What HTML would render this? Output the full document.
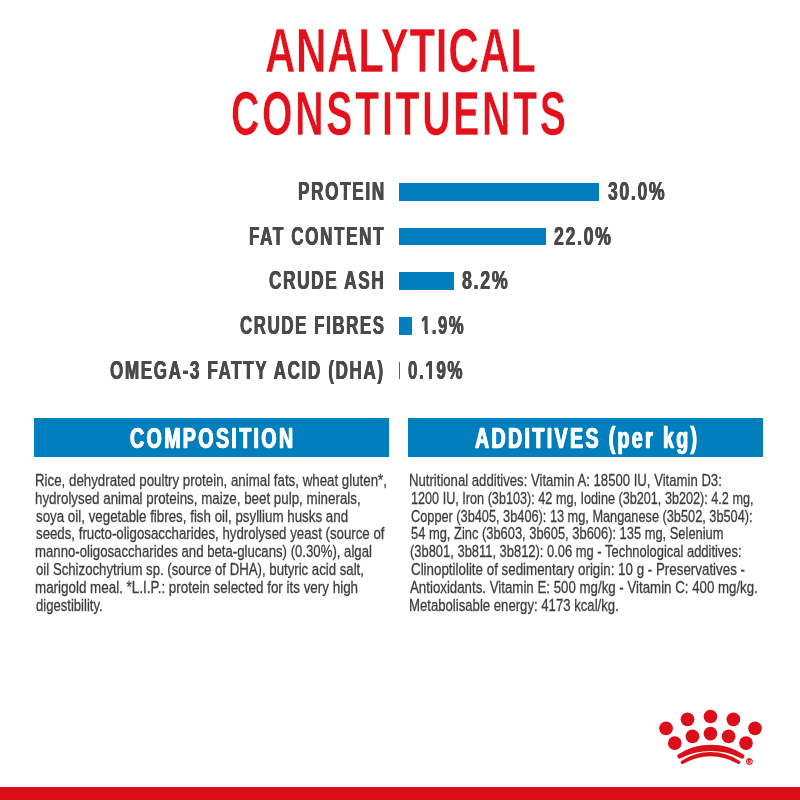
<!DOCTYPE html>
<html lang="en"><head><meta charset="utf-8"><title>Analytical constituents</title>
<style>
html,body{margin:0;padding:0;background:#fff}
body{width:800px;height:800px;position:relative;overflow:hidden;font-family:"Liberation Sans",sans-serif}
.t{position:absolute;white-space:nowrap;line-height:1;transform-origin:0 0;margin:0}
.p{position:absolute;background:#fff}
.bar{position:absolute;left:399px;height:17.8px;background:#007ebd}
.hd{position:absolute;top:418.3px;height:38.4px;background:#007ebd}
.foot{position:absolute;left:0;top:786.5px;width:800px;height:13.5px;background:#da0f19}
svg{position:absolute;left:0;top:0}
</style></head><body>
<div class="bar" style="top:182.85px;width:200.2px"></div>
<div class="bar" style="top:227.55px;width:146.7px"></div>
<div class="bar" style="top:272.2px;width:55.0px"></div>
<div class="bar" style="top:317.0px;width:12.9px"></div>
<div class="bar" style="top:361.5px;width:1.35px"></div>

<div class="hd" style="left:33.8px;width:355.5px"></div>
<div class="hd" style="left:408px;width:355.3px"></div>
<div class="t" style="left:265.26px;top:19.50px;font-size:62.35px;font-weight:700;color:#e2111c;transform:scaleX(0.6759);-webkit-text-stroke:0.5px #fff;letter-spacing:0.94px">ANALYTICAL</div>
<div class="t" style="left:230.64px;top:82.65px;font-size:62.35px;font-weight:700;color:#e2111c;transform:scaleX(0.6302);-webkit-text-stroke:0.5px #fff;letter-spacing:4.25px">CONSTITUENTS</div>
<div class="t" style="left:298.43px;top:179.10px;font-size:25.29px;font-weight:700;color:#4a4a49;transform:scaleX(0.6800);-webkit-text-stroke:0.2px #4a4a49;letter-spacing:2.40px;text-shadow:0.5px 0 0 #4a4a49,-0.5px 0 0 #4a4a49">PROTEIN</div>
<div class="t" style="left:248.93px;top:223.70px;font-size:25.29px;font-weight:700;color:#4a4a49;transform:scaleX(0.6755);-webkit-text-stroke:0.2px #4a4a49;letter-spacing:2.40px;text-shadow:0.5px 0 0 #4a4a49,-0.5px 0 0 #4a4a49">FAT CONTENT</div>
<div class="t" style="left:269.23px;top:268.40px;font-size:25.29px;font-weight:700;color:#4a4a49;transform:scaleX(0.6809);-webkit-text-stroke:0.2px #4a4a49;letter-spacing:2.40px;text-shadow:0.5px 0 0 #4a4a49,-0.5px 0 0 #4a4a49">CRUDE ASH</div>
<div class="t" style="left:240.33px;top:313.20px;font-size:25.29px;font-weight:700;color:#4a4a49;transform:scaleX(0.6667);-webkit-text-stroke:0.2px #4a4a49;letter-spacing:2.40px;text-shadow:0.5px 0 0 #4a4a49,-0.5px 0 0 #4a4a49">CRUDE FIBRES</div>
<div class="t" style="left:109.83px;top:357.80px;font-size:25.29px;font-weight:700;color:#4a4a49;transform:scaleX(0.6752);-webkit-text-stroke:0.2px #4a4a49;letter-spacing:2.40px;text-shadow:0.5px 0 0 #4a4a49,-0.5px 0 0 #4a4a49">OMEGA-3 FATTY ACID (DHA)</div>
<div class="t" style="left:607.92px;top:179.10px;font-size:25.29px;font-weight:700;color:#4a4a49;transform:scaleX(0.6962);-webkit-text-stroke:0.2px #4a4a49;letter-spacing:2.40px;text-shadow:0.5px 0 0 #4a4a49,-0.5px 0 0 #4a4a49">30.0%</div>
<div class="t" style="left:554.42px;top:223.70px;font-size:25.29px;font-weight:700;color:#4a4a49;transform:scaleX(0.6999);-webkit-text-stroke:0.2px #4a4a49;letter-spacing:2.40px;text-shadow:0.5px 0 0 #4a4a49,-0.5px 0 0 #4a4a49">22.0%</div>
<div class="t" style="left:461.72px;top:268.40px;font-size:25.29px;font-weight:700;color:#4a4a49;transform:scaleX(0.7048);-webkit-text-stroke:0.2px #4a4a49;letter-spacing:2.40px;text-shadow:0.5px 0 0 #4a4a49,-0.5px 0 0 #4a4a49">8.2%</div>
<div class="t" style="left:421.34px;top:313.20px;font-size:25.29px;font-weight:700;color:#4a4a49;transform:scaleX(0.6568);-webkit-text-stroke:0.2px #4a4a49;letter-spacing:2.40px;text-shadow:0.5px 0 0 #4a4a49,-0.5px 0 0 #4a4a49">1.9%</div>
<div class="p" style="left:420.79px;top:330.62px;width:3.93px;height:4.28px"></div><div class="p" style="left:427.99px;top:330.62px;width:3.22px;height:4.28px"></div>
<div class="t" style="left:407.73px;top:357.80px;font-size:25.29px;font-weight:700;color:#4a4a49;transform:scaleX(0.6702);-webkit-text-stroke:0.2px #4a4a49;letter-spacing:2.40px;text-shadow:0.5px 0 0 #4a4a49,-0.5px 0 0 #4a4a49">0.19%</div>
<div class="p" style="left:424.55px;top:375.22px;width:3.99px;height:4.28px"></div><div class="p" style="left:431.87px;top:375.22px;width:3.27px;height:4.28px"></div>
<div class="t" style="left:130.48px;top:424.17px;font-size:28.85px;font-weight:700;color:#ffffff;transform:scaleX(0.6803);-webkit-text-stroke:0.45px #ffffff;letter-spacing:3.46px;text-shadow:0.75px 0 0 #ffffff,-0.75px 0 0 #ffffff">COMPOSITION</div>
<div class="t" style="left:475.16px;top:424.17px;font-size:28.85px;font-weight:700;color:#ffffff;transform:scaleX(0.6802);-webkit-text-stroke:0.45px #ffffff;letter-spacing:3.46px;text-shadow:0.75px 0 0 #ffffff,-0.75px 0 0 #ffffff">ADDITIVES (per kg)</div>
<div class="t" style="left:34.85px;top:471.60px;font-size:17.37px;font-weight:400;color:#3c3c3b;transform:scaleX(0.7662);-webkit-text-stroke:0.3px #3c3c3b">Rice, dehydrated poultry protein, animal fats, wheat gluten*,</div>
<div class="t" style="left:34.85px;top:489.56px;font-size:17.37px;font-weight:400;color:#3c3c3b;transform:scaleX(0.7688);-webkit-text-stroke:0.3px #3c3c3b">hydrolysed animal proteins, maize, beet pulp, minerals,</div>
<div class="t" style="left:36.32px;top:507.52px;font-size:17.37px;font-weight:400;color:#3c3c3b;transform:scaleX(0.7682);-webkit-text-stroke:0.3px #3c3c3b">soya oil, vegetable fibres, fish oil, psyllium husks and</div>
<div class="t" style="left:36.31px;top:525.48px;font-size:17.37px;font-weight:400;color:#3c3c3b;transform:scaleX(0.7635);-webkit-text-stroke:0.3px #3c3c3b">seeds, fructo-oligosaccharides, hydrolysed yeast (source of</div>
<div class="t" style="left:34.85px;top:543.44px;font-size:17.37px;font-weight:400;color:#3c3c3b;transform:scaleX(0.7591);-webkit-text-stroke:0.3px #3c3c3b">manno-oligosaccharides and beta-glucans) (0.30%), algal</div>
<div class="t" style="left:36.31px;top:561.40px;font-size:17.37px;font-weight:400;color:#3c3c3b;transform:scaleX(0.7605);-webkit-text-stroke:0.3px #3c3c3b">oil Schizochytrium sp. (source of DHA), butyric acid salt,</div>
<div class="t" style="left:34.84px;top:579.36px;font-size:17.37px;font-weight:400;color:#3c3c3b;transform:scaleX(0.7720);-webkit-text-stroke:0.3px #3c3c3b">marigold meal. *L.I.P.: protein selected for its very high</div>
<div class="t" style="left:36.31px;top:597.32px;font-size:17.37px;font-weight:400;color:#3c3c3b;transform:scaleX(0.7541);-webkit-text-stroke:0.3px #3c3c3b">digestibility.</div>
<div class="t" style="left:409.46px;top:471.60px;font-size:17.37px;font-weight:400;color:#3c3c3b;transform:scaleX(0.7569);-webkit-text-stroke:0.3px #3c3c3b">Nutritional additives: Vitamin A: 18500 IU, Vitamin D3:</div>
<div class="t" style="left:410.98px;top:489.56px;font-size:17.37px;font-weight:400;color:#3c3c3b;transform:scaleX(0.7288);-webkit-text-stroke:0.3px #3c3c3b">1200 IU, Iron (3b103): 42 mg, Iodine (3b201, 3b202): 4.2 mg,</div>
<div class="t" style="left:410.71px;top:507.52px;font-size:17.37px;font-weight:400;color:#3c3c3b;transform:scaleX(0.7342);-webkit-text-stroke:0.3px #3c3c3b">Copper (3b405, 3b406): 13 mg, Manganese (3b502, 3b504):</div>
<div class="t" style="left:410.71px;top:525.48px;font-size:17.37px;font-weight:400;color:#3c3c3b;transform:scaleX(0.7428);-webkit-text-stroke:0.3px #3c3c3b">54 mg, Zinc (3b603, 3b605, 3b606): 135 mg, Selenium</div>
<div class="t" style="left:409.97px;top:543.44px;font-size:17.37px;font-weight:400;color:#3c3c3b;transform:scaleX(0.7447);-webkit-text-stroke:0.3px #3c3c3b">(3b801, 3b811, 3b812): 0.06 mg - Technological additives:</div>
<div class="t" style="left:410.72px;top:561.40px;font-size:17.37px;font-weight:400;color:#3c3c3b;transform:scaleX(0.7693);-webkit-text-stroke:0.3px #3c3c3b">Clinoptilolite of sedimentary origin: 10 g - Preservatives -</div>
<div class="t" style="left:410.21px;top:579.36px;font-size:17.37px;font-weight:400;color:#3c3c3b;transform:scaleX(0.7648);-webkit-text-stroke:0.3px #3c3c3b">Antioxidants. Vitamin E: 500 mg/kg - Vitamin C: 400 mg/kg.</div>
<div class="t" style="left:409.46px;top:597.32px;font-size:17.37px;font-weight:400;color:#3c3c3b;transform:scaleX(0.7575);-webkit-text-stroke:0.3px #3c3c3b">Metabolisable energy: 4173 kcal/kg.</div>


<svg width="800" height="800" viewBox="0 0 800 800"><g transform="translate(0 0.3)">
<g fill="#db0f1a">
<circle cx="666.05" cy="728.05" r="6.85"/>
<circle cx="687.5" cy="719.05" r="6.85"/>
<circle cx="710.45" cy="716.2" r="6.85"/>
<circle cx="733.4" cy="719.05" r="6.85"/>
<circle cx="755" cy="728.05" r="6.85"/>
<circle cx="674.75" cy="742.75" r="6.85"/>
<circle cx="692.45" cy="736" r="6.85"/>
<circle cx="710.45" cy="733.3" r="6.85"/>
<circle cx="728.6" cy="736" r="6.85"/>
<circle cx="746" cy="742.75" r="6.85"/>
</g>
<g fill="none" stroke="#db0f1a" stroke-linecap="round">
<path d="M679.6 755.9 A58.3 58.3 0 0 1 742 755.9 A68.2 68.2 0 0 0 679.6 755.9 Z" fill="#db0f1a" stroke-width="4.7" stroke-linejoin="round"/>
<path d="M682.4 762 A50.45 50.45 0 0 1 738.6 762 A54.8 54.8 0 0 0 682.4 762 Z" fill="#db0f1a" stroke-width="3.4" stroke-linejoin="round"/>
</g>
<text x="749.4" y="764.3" font-family="Liberation Sans, sans-serif" font-size="9" font-weight="700" fill="#db0f1a" stroke="#db0f1a" stroke-width="0.35" text-anchor="middle">®</text>
</g></svg>

<div class="foot"></div>
</body></html>
